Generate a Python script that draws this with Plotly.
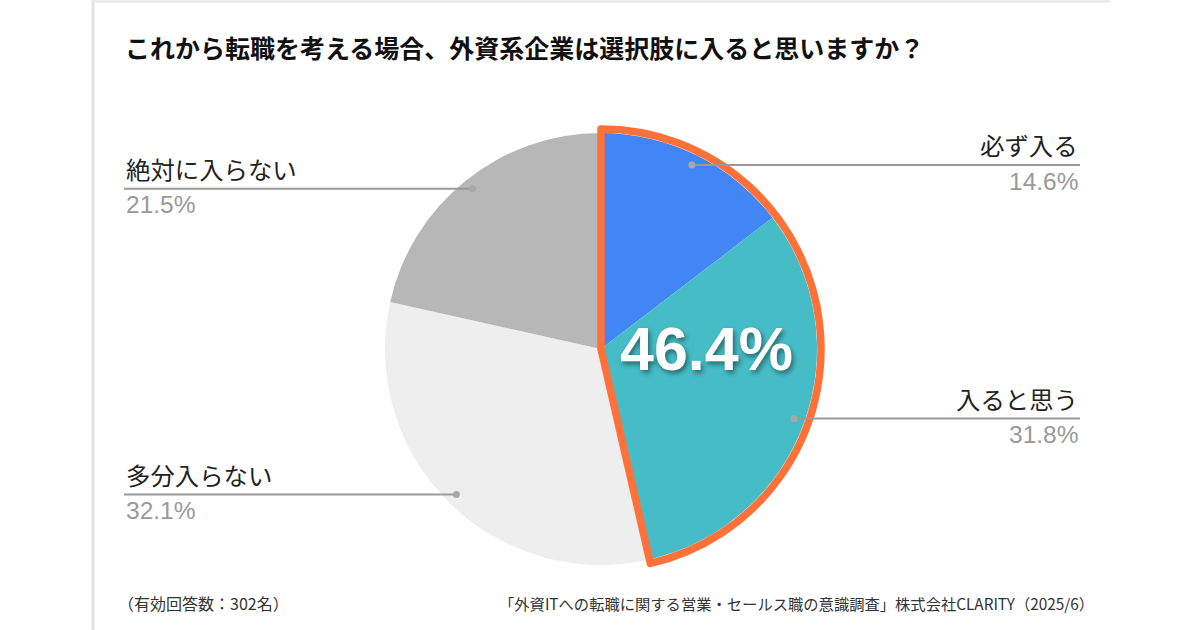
import math
import plotly.graph_objects as go

# ---- data ----
title_text = "これから転職を考える場合、外資系企業は選択肢に入ると思いますか？"
categories = ["必ず入る", "入ると思う", "多分入らない", "絶対に入らない"]
values = [14.6, 31.8, 32.1, 21.5]
colors = ["#4285F4", "#46BDC6", "#EEEEEE", "#B7B7B7"]
highlight_count = 2  # first two slices are highlighted
note_left = "（有効回答数：302名）"
note_right = "「外資ITへの転職に関する営業・セールス職の意識調査」株式会社CLARITY（2025/6）"

# ---- layout constants (pixels) ----
W, H = 1200, 630
CX, CY, R = 601, 349, 216
ORANGE = "#FF7139"


def px(x):
    return x / W


def py(y):
    return 1 - y / H


fig = go.Figure()

fig.add_trace(go.Pie(
    labels=categories, values=values, sort=False, direction="clockwise", rotation=0,
    marker=dict(colors=colors, line=dict(width=0)),
    textinfo="none", hoverinfo="label+percent", showlegend=False,
    domain=dict(x=[px(CX - R), px(CX + R)], y=[py(CY + R), py(CY - R)]),
))

hl_val = round(sum(values[:highlight_count]), 1)
rest_val = round(sum(values[highlight_count:]), 1)
R2 = R + 4
fig.add_trace(go.Pie(
    labels=["highlight", "rest"], values=[hl_val, rest_val], sort=False,
    direction="clockwise", rotation=0,
    marker=dict(colors=["rgba(0,0,0,0)", "rgba(0,0,0,0)"],
                line=dict(color=[ORANGE, "rgba(0,0,0,0)"], width=7.5)),
    textinfo="none", hoverinfo="skip", showlegend=False,
    domain=dict(x=[px(CX - R2), px(CX + R2)], y=[py(CY + R2), py(CY - R2)]),
))

shapes = []
annotations = []

# card border (left + top)
shapes.append(dict(type="line", xref="paper", yref="paper", x0=px(93), x1=px(93), y0=py(0), y1=py(630),
                    line=dict(color="#E2E2E2", width=3)))
shapes.append(dict(type="line", xref="paper", yref="paper", x0=px(93), x1=px(1110), y0=py(1.5), y1=py(1.5),
                    line=dict(color="#ECECEC", width=3)))

# leader lines and labels
total = sum(values)
cum = 0.0
for cat, v in zip(categories, values):
    theta = 2 * math.pi * (cum + v / 2) / total
    cum += v
    dx = CX + 0.95 * R * math.sin(theta)
    dy = CY - 0.95 * R * math.cos(theta)
    right = dx > CX
    end_x = 1080 if right else 124
    shapes.append(dict(type="line", xref="paper", yref="paper", x0=px(dx), x1=px(end_x),
                       y0=py(dy), y1=py(dy), line=dict(color="#999999", width=2)))
    shapes.append(dict(type="circle", xref="paper", yref="paper",
                       x0=px(dx - 3.5), x1=px(dx + 3.5), y0=py(dy + 3.5), y1=py(dy - 3.5),
                       fillcolor="#A8A8A8", line=dict(width=0)))
    anchor = "right" if right else "left"
    annotations.append(dict(xref="paper", yref="paper", x=px(end_x), y=py(dy - 1),
                            text=cat, showarrow=False, xanchor=anchor, yanchor="bottom",
                            font=dict(family="Noto Sans CJK JP", size=24.4, color="#222222")))
    annotations.append(dict(xref="paper", yref="paper", x=px(end_x), y=py(dy + 0.5),
                            text=f"{v:.1f}%", showarrow=False, xanchor=anchor, yanchor="top",
                            font=dict(family="Liberation Sans", size=24.5, color="#999999")))

# big highlight number
annotations.append(dict(xref="paper", yref="paper", x=px(707), y=py(349),
                        text=f"<b>{hl_val:.1f}%</b>", showarrow=False,
                        xanchor="center", yanchor="middle",
                        font=dict(family="Liberation Sans", size=61, color="white",
                                  shadow="2px 3px 5px rgba(0,0,0,0.45)")))

# title
annotations.append(dict(xref="paper", yref="paper", x=px(123), y=py(47),
                        text=f"<b>{title_text}</b>", showarrow=False,
                        xanchor="left", yanchor="middle",
                        font=dict(family="Noto Sans CJK JP", size=25, color="#111111")))

# footnotes
annotations.append(dict(xref="paper", yref="paper", x=px(116), y=py(603),
                        text=note_left, showarrow=False, xanchor="left", yanchor="middle",
                        font=dict(family="Noto Sans CJK JP", size=16, color="#333333")))
annotations.append(dict(xref="paper", yref="paper", x=px(1096), y=py(603),
                        text=note_right, showarrow=False, xanchor="right", yanchor="middle",
                        font=dict(family="Noto Sans CJK JP", size=15.3, color="#333333")))

fig.update_layout(
    width=W, height=H, margin=dict(l=0, r=0, t=0, b=0),
    paper_bgcolor="white", plot_bgcolor="white",
    shapes=shapes, annotations=annotations, showlegend=False,
)

fig.write_html("out.html", config={"displayModeBar": False},
               post_script="document.body.style.margin='0';")
